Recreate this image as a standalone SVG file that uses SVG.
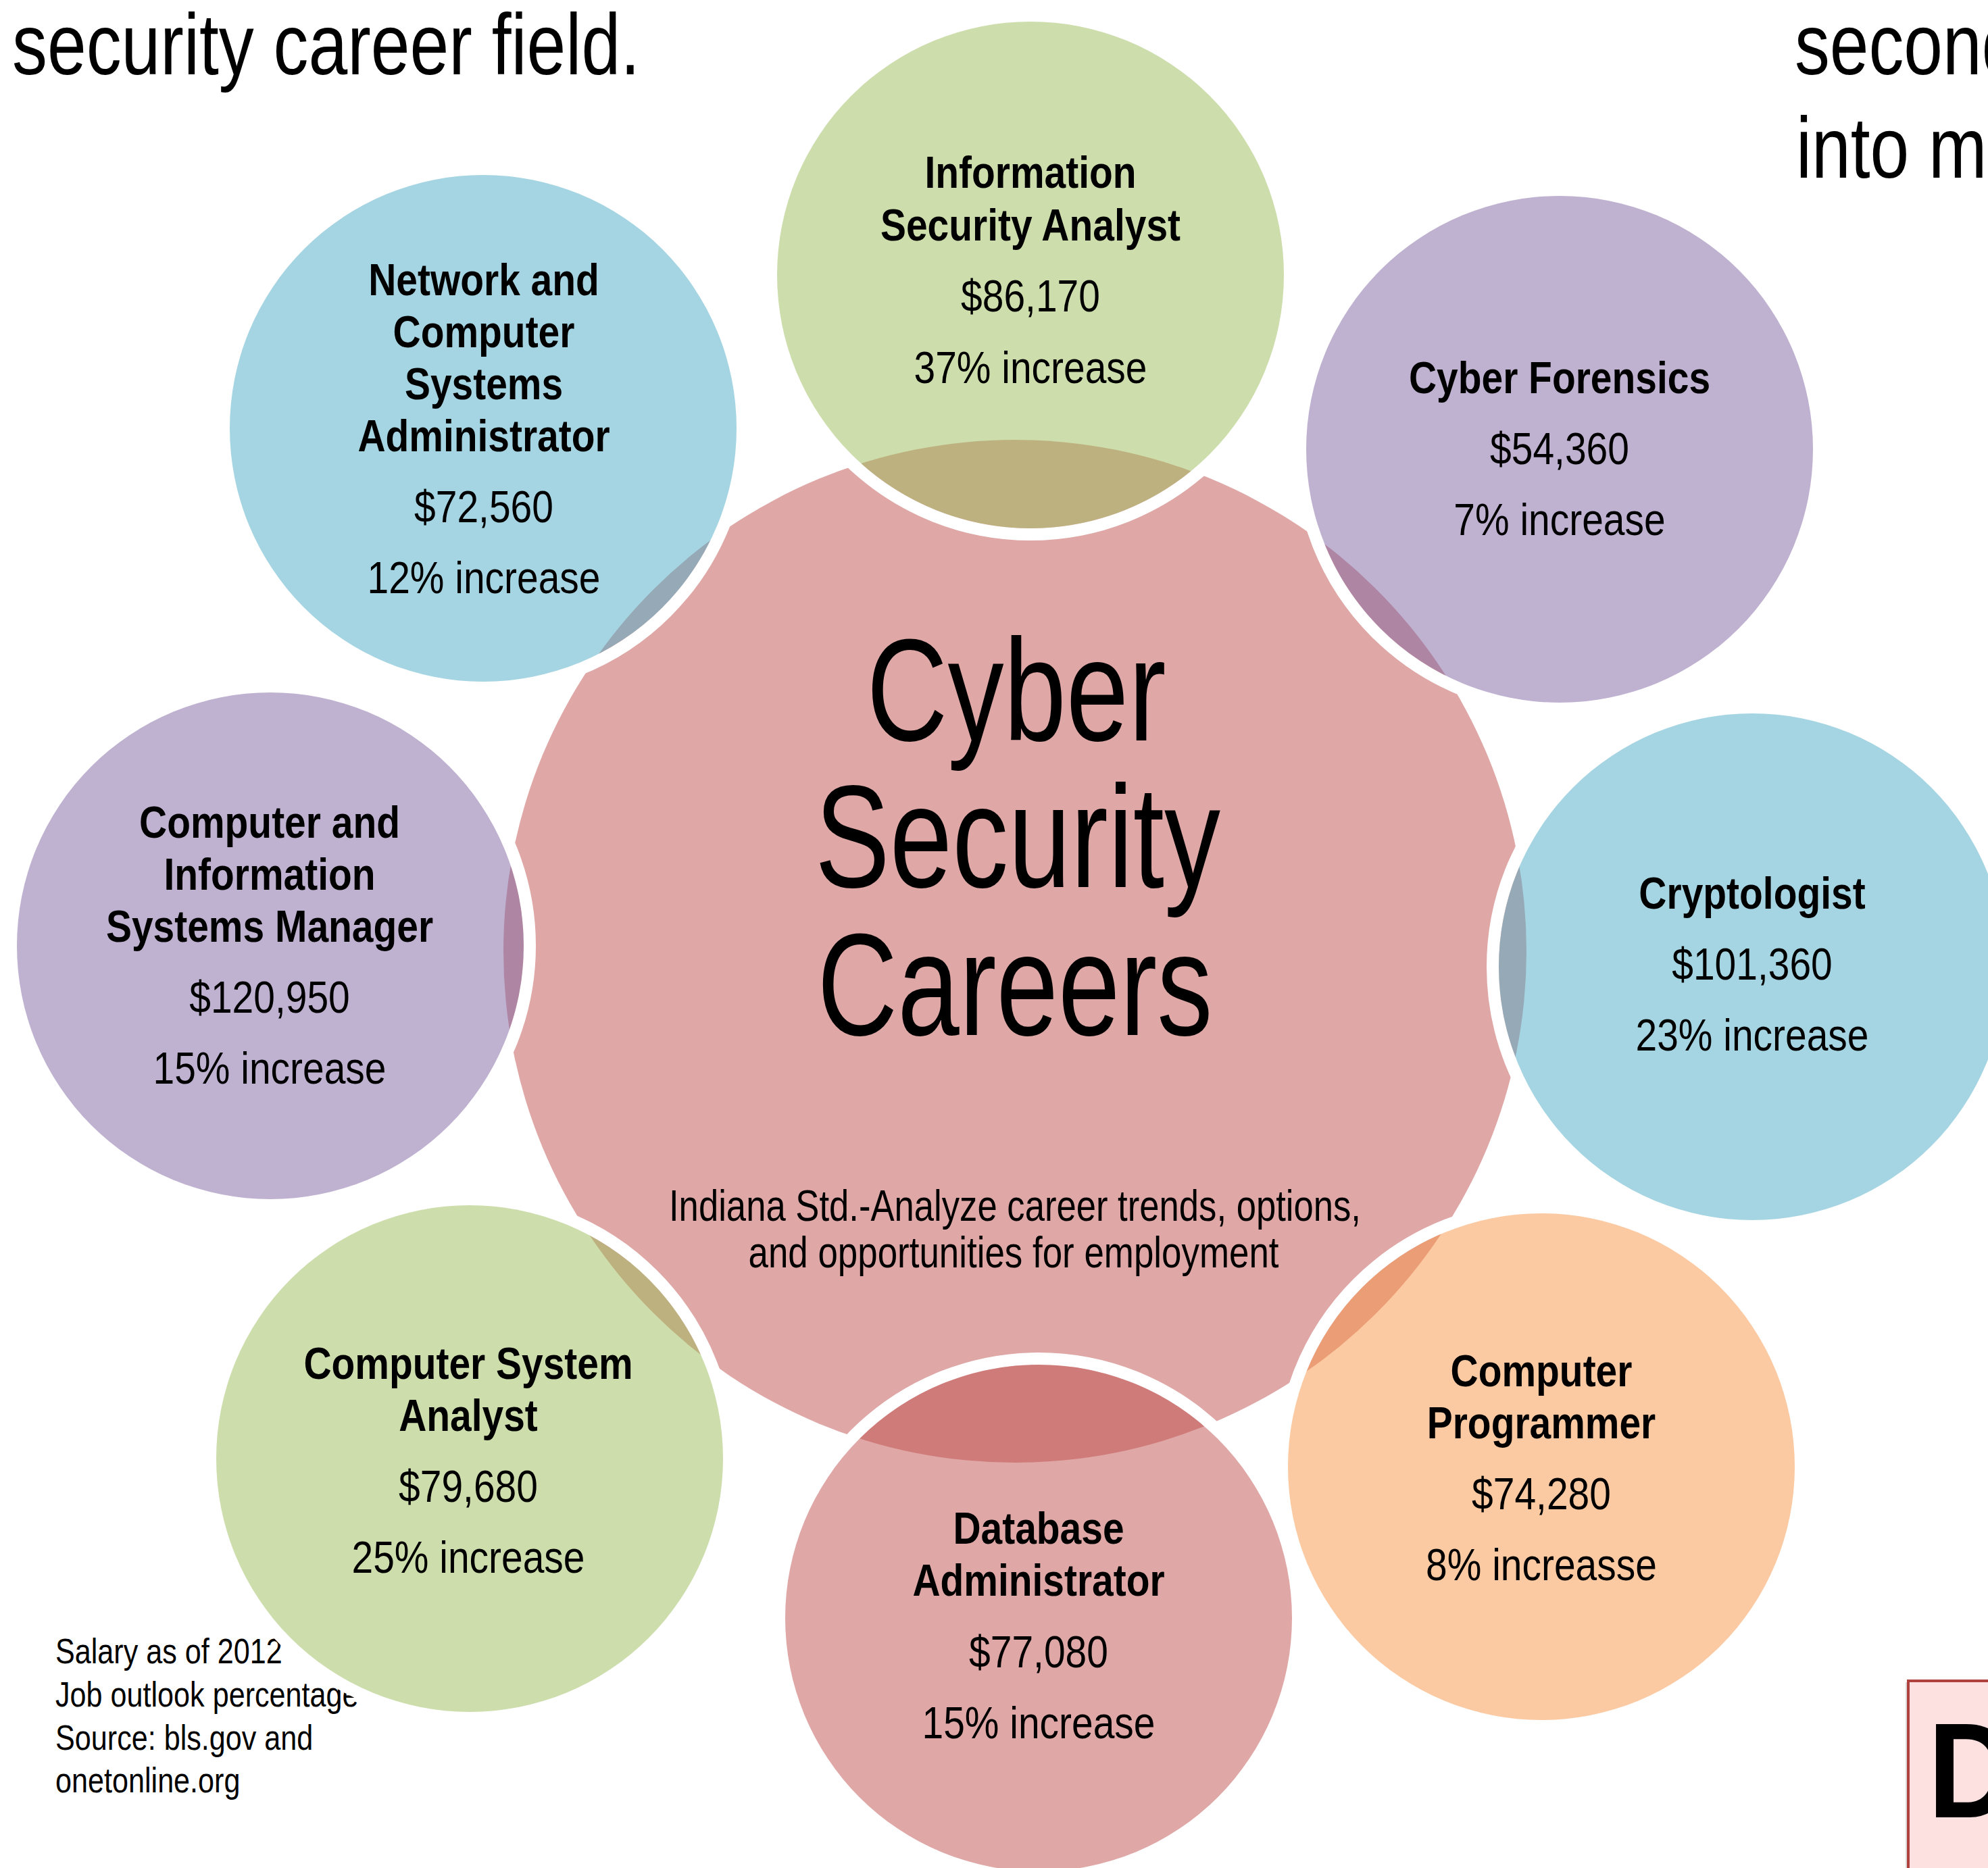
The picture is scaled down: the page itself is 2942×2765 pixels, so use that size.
<svg xmlns="http://www.w3.org/2000/svg" width="2942" height="2765" viewBox="0 0 2942 2765">
<style>
text{font-family:"Liberation Sans",Arial,sans-serif;fill:#000}
.t{font-size:67px;text-anchor:middle}
.b{font-weight:bold}
.ring{fill:none;stroke:#fff;stroke-width:18}
.fill{fill-opacity:0.5}
.green{fill:#9BBB59}.aqua{fill:#4BACC6}.purple{fill:#8064A2}.red{fill:#C0504D}.orange{fill:#F79646}
.big{font-size:128px}
.title{font-size:215px;text-anchor:middle}
.std{font-size:65px;text-anchor:middle}
.note{font-size:52px}
</style>
<rect x="0" y="0" width="2942" height="2765" fill="#fff"/>
<g id="page-text">
<text class="big" x="18" y="110" textLength="929" lengthAdjust="spacingAndGlyphs">security career field.</text>
<g transform="translate(2656,110) scale(0.81,1)"><text class="big" x="0" y="0">second</text></g>
<g transform="translate(2658,263) scale(0.81,1)"><text class="big" x="0" y="0">into m</text></g>
</g>
<g id="footnote" transform="translate(82,0) scale(0.83,1)">
<text class="note" x="0" y="2462">Salary as of 2012</text>
<text class="note" x="0" y="2526">Job outlook percentage</text>
<text class="note" x="0" y="2590">Source: bls.gov and</text>
<text class="note" x="0" y="2653">onetonline.org</text>
</g>
<g id="center">
<circle class="fill red" cx="1502" cy="1408" r="757"/>
<text class="title" x="1504" y="1096" textLength="443" lengthAdjust="spacingAndGlyphs">Cyber</text>
<text class="title" x="1506" y="1313" textLength="600" lengthAdjust="spacingAndGlyphs">Security</text>
<text class="title" x="1502" y="1532" textLength="585" lengthAdjust="spacingAndGlyphs">Careers</text>
<text class="std" x="1502" y="1807" textLength="1024" lengthAdjust="spacingAndGlyphs">Indiana Std.-Analyze career trends, options,</text>
<text class="std" x="1500" y="1876" textLength="785" lengthAdjust="spacingAndGlyphs">and opportunities for employment</text>
</g>
<g id="info-security-analyst">
<circle class="ring" cx="1525" cy="407" r="384"/>
<circle class="fill green" cx="1525" cy="407" r="375"/>
<g transform="translate(1525,0) scale(0.85,1)">
<text class="t b" x="0" y="278">Information</text>
<text class="t b" x="0" y="356">Security Analyst</text>
<text class="t" x="0" y="461">$86,170</text>
<text class="t" x="0" y="567">37% increase</text>
</g>
</g>
<g id="network-admin">
<circle class="ring" cx="715" cy="634" r="384"/>
<circle class="fill aqua" cx="715" cy="634" r="375"/>
<g transform="translate(716,0) scale(0.85,1)">
<text class="t b" x="0" y="437">Network and</text>
<text class="t b" x="0" y="514">Computer</text>
<text class="t b" x="0" y="591">Systems</text>
<text class="t b" x="0" y="668">Administrator</text>
<text class="t" x="0" y="773">$72,560</text>
<text class="t" x="0" y="878">12% increase</text>
</g>
</g>
<g id="cyber-forensics">
<circle class="ring" cx="2308" cy="665" r="384"/>
<circle class="fill purple" cx="2308" cy="665" r="375"/>
<g transform="translate(2308,0) scale(0.85,1)">
<text class="t b" x="0" y="582">Cyber Forensics</text>
<text class="t" x="0" y="687">$54,360</text>
<text class="t" x="0" y="792">7% increase</text>
</g>
</g>
<g id="info-systems-manager">
<circle class="ring" cx="400" cy="1400" r="384"/>
<circle class="fill purple" cx="400" cy="1400" r="375"/>
<g transform="translate(399,0) scale(0.85,1)">
<text class="t b" x="0" y="1240">Computer and</text>
<text class="t b" x="0" y="1317">Information</text>
<text class="t b" x="0" y="1394">Systems Manager</text>
<text class="t" x="0" y="1499">$120,950</text>
<text class="t" x="0" y="1604">15% increase</text>
</g>
</g>
<g id="cryptologist">
<circle class="ring" cx="2593" cy="1431" r="384"/>
<circle class="fill aqua" cx="2593" cy="1431" r="375"/>
<g transform="translate(2593,0) scale(0.85,1)">
<text class="t b" x="0" y="1345">Cryptologist</text>
<text class="t" x="0" y="1450">$101,360</text>
<text class="t" x="0" y="1555">23% increase</text>
</g>
</g>
<g id="computer-system-analyst">
<circle class="ring" cx="695" cy="2159" r="384"/>
<circle class="fill green" cx="695" cy="2159" r="375"/>
<g transform="translate(693,0) scale(0.85,1)">
<text class="t b" x="0" y="2041">Computer System</text>
<text class="t b" x="0" y="2118">Analyst</text>
<text class="t" x="0" y="2223">$79,680</text>
<text class="t" x="0" y="2328">25% increase</text>
</g>
</g>
<g id="database-admin">
<circle class="ring" cx="1537" cy="2395" r="384"/>
<circle class="fill red" cx="1537" cy="2395" r="375"/>
<g transform="translate(1537,0) scale(0.85,1)">
<text class="t b" x="0" y="2285">Database</text>
<text class="t b" x="0" y="2362">Administrator</text>
<text class="t" x="0" y="2468">$77,080</text>
<text class="t" x="0" y="2573">15% increase</text>
</g>
</g>
<g id="computer-programmer">
<circle class="ring" cx="2281" cy="2171" r="384"/>
<circle class="fill orange" cx="2281" cy="2171" r="375"/>
<g transform="translate(2281,0) scale(0.85,1)">
<text class="t b" x="0" y="2052">Computer</text>
<text class="t b" x="0" y="2129">Programmer</text>
<text class="t" x="0" y="2234">$74,280</text>
<text class="t" x="0" y="2339">8% increasse</text>
</g>
</g>
<g id="connectors"></g>
<g id="corner-box">
<rect x="2820" y="2490" width="140" height="300" fill="#999" opacity="0.35"/>
<rect x="2824" y="2488" width="140" height="300" fill="#FDE1E1" stroke="#B0423E" stroke-width="4"/>
<g transform="translate(2853,2690) scale(0.9,1)"><text x="0" y="0" style="font-size:200px;font-weight:bold">D</text></g>
</g>
</svg>
